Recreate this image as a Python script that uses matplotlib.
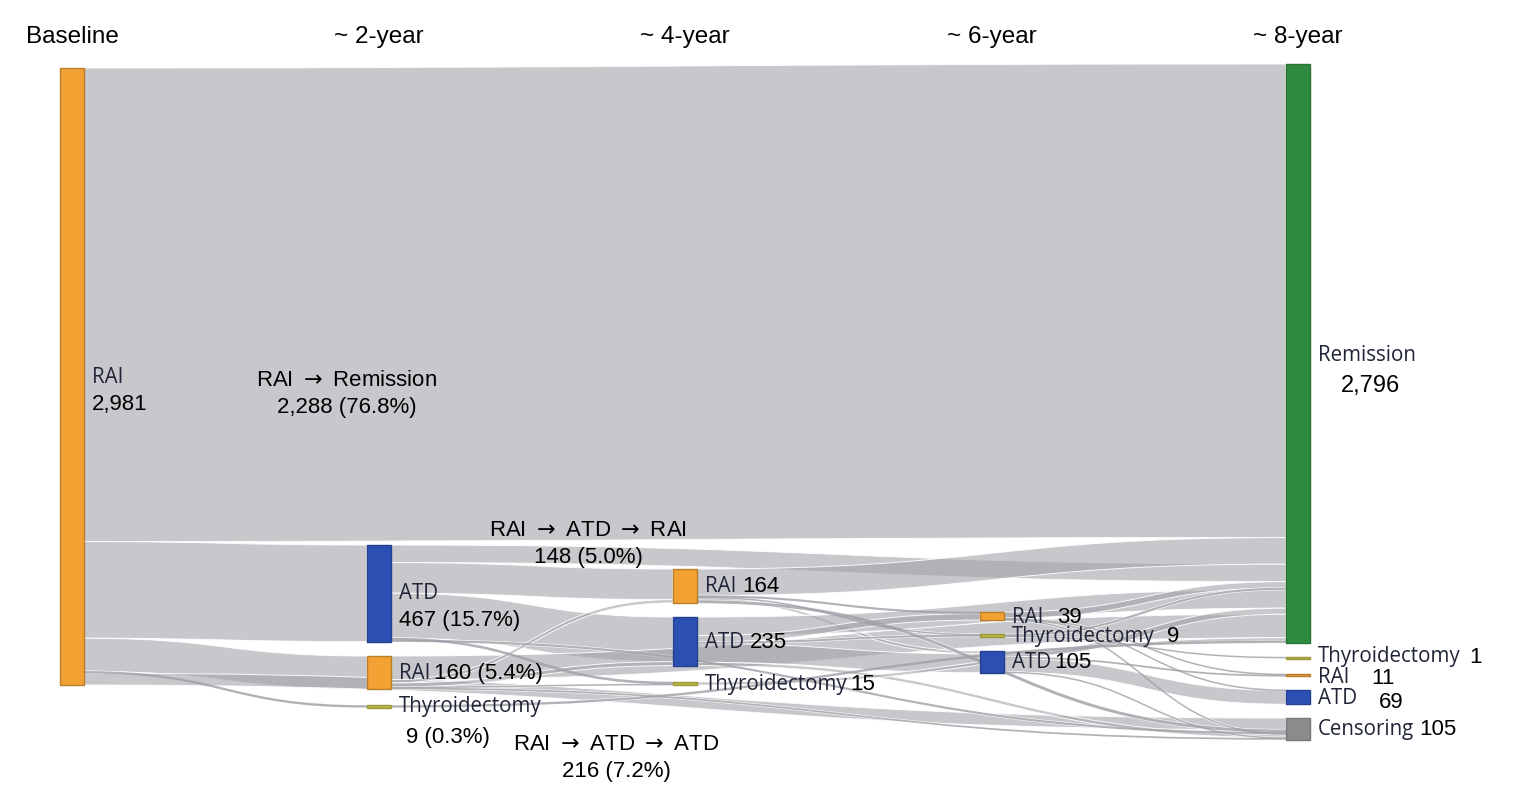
import matplotlib
matplotlib.use("Agg")
import matplotlib.pyplot as plt
from matplotlib.path import Path
from matplotlib.patches import PathPatch, Rectangle

# ---------------- data ----------------
column_titles = ["Baseline", "~ 2-year", "~ 4-year", "~ 6-year", "~ 8-year"]

node_ids = ["B_RAI", "Y2_ATD", "Y2_RAI", "Y2_THY",
            "Y4_RAI", "Y4_ATD", "Y4_THY",
            "Y6_RAI", "Y6_THY", "Y6_ATD",
            "Y8_REM", "Y8_THY", "Y8_RAI", "Y8_ATD", "Y8_CEN"]
node_column = [0, 1, 1, 1, 2, 2, 2, 3, 3, 3, 4, 4, 4, 4, 4]
node_category = ["RAI", "ATD", "RAI", "Thyroidectomy",
                 "RAI", "ATD", "Thyroidectomy",
                 "RAI", "Thyroidectomy", "ATD",
                 "Remission", "Thyroidectomy", "RAI", "ATD", "Censoring"]
node_value_labels = ["2,981", "467 (15.7%)", "160 (5.4%)", "9 (0.3%)",
                     "164", "235", "15",
                     "39", "9", "105",
                     "2,796", "1", "11", "69", "105"]

flow_source = ["B_RAI", "B_RAI", "B_RAI", "B_RAI", "B_RAI",
               "Y2_ATD", "Y2_ATD", "Y2_ATD", "Y2_ATD", "Y2_ATD",
               "Y2_RAI", "Y2_RAI", "Y2_RAI", "Y2_RAI", "Y2_RAI",
               "Y2_THY",
               "Y4_RAI", "Y4_RAI", "Y4_RAI", "Y4_RAI", "Y4_RAI",
               "Y4_ATD", "Y4_ATD", "Y4_ATD", "Y4_ATD", "Y4_ATD",
               "Y4_THY",
               "Y6_RAI", "Y6_RAI", "Y6_RAI", "Y6_RAI",
               "Y6_THY", "Y6_THY",
               "Y6_ATD", "Y6_ATD", "Y6_ATD", "Y6_ATD"]
flow_target = ["Y8_REM", "Y2_ATD", "Y2_RAI", "Y2_THY", "Y8_CEN",
               "Y8_REM", "Y4_RAI", "Y4_ATD", "Y4_THY", "Y8_CEN",
               "Y8_REM", "Y4_RAI", "Y4_ATD", "Y4_THY", "Y8_CEN",
               "Y8_REM",
               "Y8_REM", "Y6_RAI", "Y6_THY", "Y6_ATD", "Y8_CEN",
               "Y8_REM", "Y6_RAI", "Y6_THY", "Y6_ATD", "Y8_CEN",
               "Y8_REM",
               "Y8_REM", "Y8_RAI", "Y8_ATD", "Y8_CEN",
               "Y8_REM", "Y8_THY",
               "Y8_REM", "Y8_RAI", "Y8_ATD", "Y8_CEN"]
flow_value = [2288, 467, 160, 9, 57,
              85, 148, 216, 10, 8,
              114, 16, 19, 5, 6,
              9,
              128, 8, 2, 14, 12,
              90, 31, 7, 91, 16,
              15,
              30, 5, 2, 2,
              8, 1,
              29, 6, 67, 3]

path_titles = ["RAI $\\rightarrow$ Remission", "RAI $\\rightarrow$ ATD $\\rightarrow$ RAI",
               "RAI $\\rightarrow$ ATD $\\rightarrow$ ATD"]
path_counts = ["2,288 (76.8%)", "148 (5.0%)", "216 (7.2%)"]

# ---------------- layout / style ----------------
W, H = 1515, 810
col_x = [60, 367, 673, 980, 1286]
node_w = 24
scale = 617.0 / 2981.0
node_top = {"B_RAI": 68, "Y2_ATD": 545, "Y2_RAI": 656, "Y2_THY": 705.5,
            "Y4_RAI": 569, "Y4_ATD": 617, "Y4_THY": 682,
            "Y6_RAI": 612, "Y6_THY": 634.5, "Y6_ATD": 651,
            "Y8_REM": 64, "Y8_THY": 657.5, "Y8_RAI": 674, "Y8_ATD": 690, "Y8_CEN": 718}
cat_face = {"RAI": "#F2A232", "ATD": "#2C4FB4", "Thyroidectomy": "#BDB846",
            "Remission": "#2F8A3F", "Censoring": "#8C8C8C"}
cat_edge = {"RAI": "#B97E2C", "ATD": "#23408F", "Thyroidectomy": "#9C973A",
            "Remission": "#2A7236", "Censoring": "#777777"}

NAME_FONT = ["Open Sans", "DejaVu Sans"]
NUM_FONT = ["Liberation Sans", "DejaVu Sans"]
NAME_COLOR = "#1F2436"
FS = 16
FS_NAME = 14.8
plt.rcParams["mathtext.fontset"] = "dejavusans"

fig = plt.figure(figsize=(W / 100, H / 100), dpi=100)
ax = fig.add_axes([0, 0, 1, 1])
ax.set_xlim(0, W)
ax.set_ylim(H, 0)
ax.axis("off")

# node geometry
inflow = {n: 0.0 for n in node_ids}
outflow = {n: 0.0 for n in node_ids}
for s, t, v in zip(flow_source, flow_target, flow_value):
    outflow[s] += v
    inflow[t] += v
geom = {}
for n, c in zip(node_ids, node_column):
    h = max(inflow[n], outflow[n]) * scale
    x0 = col_x[c]
    geom[n] = dict(x0=x0, x1=x0 + node_w, y0=node_top[n], h=h,
                   yc=node_top[n] + h / 2)

# stack flows
flows = list(zip(flow_source, flow_target, flow_value))
out_off = {n: geom[n]["y0"] for n in node_ids}
in_off = {n: geom[n]["y0"] for n in node_ids}
src_pos, tgt_pos = {}, {}
for n in node_ids:
    outs = sorted([i for i, f in enumerate(flows) if f[0] == n],
                  key=lambda i: geom[flows[i][1]]["yc"])
    for i in outs:
        src_pos[i] = out_off[n]
        out_off[n] += flows[i][2] * scale
    ins = sorted([i for i, f in enumerate(flows) if f[1] == n],
                 key=lambda i: geom[flows[i][0]]["yc"])
    for i in ins:
        tgt_pos[i] = in_off[n]
        in_off[n] += flows[i][2] * scale

flow_face = (0.63, 0.63, 0.66, 0.58)
for i, (s, t, v) in enumerate(flows):
    w = v * scale
    x0 = geom[s]["x1"]
    x1 = geom[t]["x0"]
    xm = (x0 + x1) / 2
    ya, yb = src_pos[i], tgt_pos[i]
    if w >= 2.5:
        verts = [(x0, ya), (xm, ya), (xm, yb), (x1, yb),
                 (x1, yb + w), (xm, yb + w), (xm, ya + w), (x0, ya + w), (x0, ya)]
        codes = [Path.MOVETO, Path.CURVE4, Path.CURVE4, Path.CURVE4,
                 Path.LINETO, Path.CURVE4, Path.CURVE4, Path.CURVE4, Path.CLOSEPOLY]
        ax.add_patch(PathPatch(Path(verts, codes), facecolor=flow_face,
                               edgecolor=(1, 1, 1, 0.9), lw=0.7, zorder=1))
    else:
        ya += w / 2
        yb += w / 2
        verts = [(x0, ya), (xm, ya), (xm, yb), (x1, yb)]
        codes = [Path.MOVETO, Path.CURVE4, Path.CURVE4, Path.CURVE4]
        ax.add_patch(PathPatch(Path(verts, codes), facecolor="none",
                               edgecolor=(1, 1, 1, 0.9), lw=max(w, 1.0) / 1.39 + 1.2, zorder=1))
        ax.add_patch(PathPatch(Path(verts, codes), facecolor="none",
                               edgecolor=(0.62, 0.62, 0.65, 0.8), lw=max(w, 1.0) / 1.39 + 0.35,
                               zorder=1.1))

# nodes
for n, cat in zip(node_ids, node_category):
    g = geom[n]
    h = max(g["h"], 2.2)
    y0 = g["yc"] - h / 2
    ax.add_patch(Rectangle((g["x0"], y0), node_w, h, facecolor=cat_face[cat],
                           edgecolor=cat_edge[cat], lw=1.0, zorder=3))

# column titles
for c, title in enumerate(column_titles):
    ax.text(col_x[c] + node_w / 2, 37, title, ha="center", va="center",
            fontsize=17.5, family=NUM_FONT, color="black")

fig.canvas.draw()
r = fig.canvas.get_renderer()
inv = ax.transData.inverted()


def text_right(t):
    bb = t.get_window_extent(renderer=r)
    return inv.transform((bb.x1, bb.y0))[0]


def inline(n, gap=6, dy=0, ndy=0):
    g = geom[n]
    k = node_ids.index(n)
    t = ax.text(g["x1"] + 8, g["yc"] + 1 + ndy, node_category[k], family=NAME_FONT,
                color=NAME_COLOR, fontsize=FS_NAME, va="center", ha="left", zorder=5)
    ax.text(text_right(t) + gap, g["yc"] + 1 + dy, node_value_labels[k], family=NUM_FONT,
            color="black", fontsize=FS, va="center", ha="left", zorder=5)


def stacked(n, dy=27, vdx=0, center=False, ndy=1, vfs=FS):
    g = geom[n]
    k = node_ids.index(n)
    t = ax.text(g["x1"] + 8, g["yc"] + ndy, node_category[k], family=NAME_FONT,
                color=NAME_COLOR, fontsize=FS_NAME, va="center", ha="left", zorder=5)
    if center:
        xr = text_right(t)
        ax.text((g["x1"] + 8 + xr) / 2 + vdx, g["yc"] + ndy + dy, node_value_labels[k],
                family=NUM_FONT, color="black", fontsize=vfs, va="center",
                ha="center", zorder=5)
    else:
        ax.text(g["x1"] + 8 + vdx, g["yc"] + ndy + dy, node_value_labels[k],
                family=NUM_FONT, color="black", fontsize=vfs, va="center",
                ha="left", zorder=5)


stacked("B_RAI", dy=27, ndy=1)
stacked("Y2_ATD", dy=27, ndy=0)
inline("Y2_RAI", gap=4)
stacked("Y2_THY", dy=31, vdx=7, ndy=0)
inline("Y4_RAI", gap=6)
inline("Y4_ATD", gap=6)
inline("Y4_THY", gap=3)
inline("Y6_RAI", gap=14)
inline("Y6_THY", gap=12)
inline("Y6_ATD", gap=3)
stacked("Y8_REM", dy=31, ndy=2, center=True, vdx=4, vfs=17)
inline("Y8_THY", gap=9, ndy=-2, dy=-1)
inline("Y8_RAI", gap=22, ndy=1, dy=2)
inline("Y8_ATD", gap=22, dy=4, ndy=0)
inline("Y8_CEN", gap=5)

# path annotations
path_anchor = [(347, 380), (588, 530), (616, 744)]
for (x, y), ttl, cnt in zip(path_anchor, path_titles, path_counts):
    ax.text(x, y, ttl, ha="center", va="center", fontsize=FS, family=NUM_FONT,
            color="black", zorder=5)
    ax.text(x, y + 27, cnt, ha="center", va="center", fontsize=FS, family=NUM_FONT,
            color="black", zorder=5)

fig.savefig("out.png", dpi=100)
